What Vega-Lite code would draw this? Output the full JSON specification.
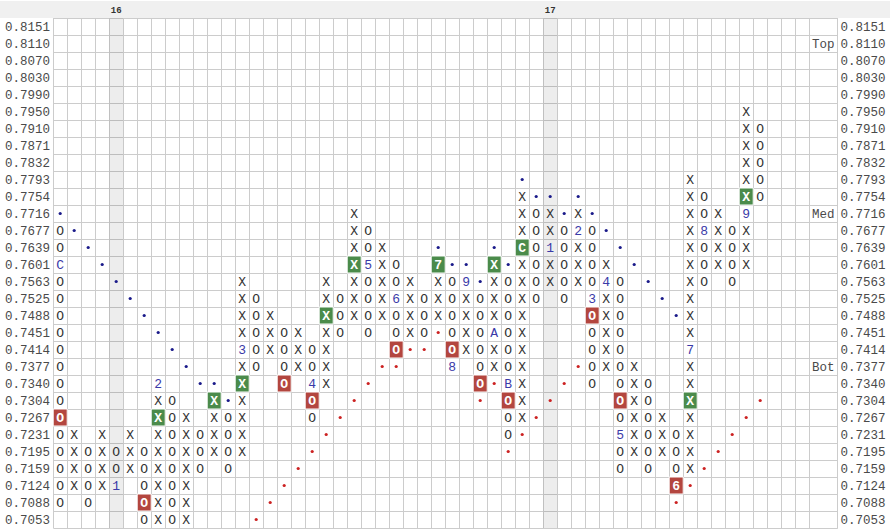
{
"$schema":"https://vega.github.io/schema/vega-lite/v6.json",
"width":890,"height":527,
"autosize":{"type":"none"},
"padding":{"left":0,"right":0,"top":1,"bottom":2},
"background":"#ffffff",
"config":{"view":{"stroke":null},"font":"Liberation Mono"},
"datasets":{
"shade":[{"c":4,"lab":"16"},{"c":35,"lab":"17"}],
"levels":[{"c":54,"p":"0.8110","s":"Top"},{"c":54,"p":"0.7716","s":"Med"},{"c":54,"p":"0.7377","s":"Bot"}],
"cells":[
{"c":0,"p":"0.7677","s":"O","k":"o"},{"c":0,"p":"0.7639","s":"O","k":"o"},{"c":0,"p":"0.7601","s":"C","k":"n"},{"c":0,"p":"0.7563","s":"O","k":"o"},{"c":0,"p":"0.7525","s":"O","k":"o"},{"c":0,"p":"0.7488","s":"O","k":"o"},{"c":0,"p":"0.7451","s":"O","k":"o"},{"c":0,"p":"0.7414","s":"O","k":"o"},{"c":0,"p":"0.7377","s":"O","k":"o"},{"c":0,"p":"0.7340","s":"O","k":"o"},{"c":0,"p":"0.7304","s":"O","k":"o"},{"c":0,"p":"0.7267","s":"O","k":"r"},{"c":0,"p":"0.7231","s":"O","k":"o"},{"c":0,"p":"0.7195","s":"O","k":"o"},{"c":0,"p":"0.7159","s":"O","k":"o"},{"c":0,"p":"0.7124","s":"O","k":"o"},{"c":0,"p":"0.7088","s":"O","k":"o"},
{"c":1,"p":"0.7231","s":"X","k":"x"},{"c":1,"p":"0.7195","s":"X","k":"x"},{"c":1,"p":"0.7159","s":"X","k":"x"},{"c":1,"p":"0.7124","s":"X","k":"x"},
{"c":2,"p":"0.7195","s":"O","k":"o"},{"c":2,"p":"0.7159","s":"O","k":"o"},{"c":2,"p":"0.7124","s":"O","k":"o"},{"c":2,"p":"0.7088","s":"O","k":"o"},
{"c":3,"p":"0.7231","s":"X","k":"x"},{"c":3,"p":"0.7195","s":"X","k":"x"},{"c":3,"p":"0.7159","s":"X","k":"x"},{"c":3,"p":"0.7124","s":"X","k":"x"},
{"c":4,"p":"0.7195","s":"O","k":"o"},{"c":4,"p":"0.7159","s":"O","k":"o"},{"c":4,"p":"0.7124","s":"1","k":"n"},
{"c":5,"p":"0.7231","s":"X","k":"x"},{"c":5,"p":"0.7195","s":"X","k":"x"},{"c":5,"p":"0.7159","s":"X","k":"x"},
{"c":6,"p":"0.7195","s":"O","k":"o"},{"c":6,"p":"0.7159","s":"O","k":"o"},{"c":6,"p":"0.7124","s":"O","k":"o"},{"c":6,"p":"0.7088","s":"O","k":"r"},{"c":6,"p":"0.7053","s":"O","k":"o"},
{"c":7,"p":"0.7340","s":"2","k":"n"},{"c":7,"p":"0.7304","s":"X","k":"x"},{"c":7,"p":"0.7267","s":"X","k":"g"},{"c":7,"p":"0.7231","s":"X","k":"x"},{"c":7,"p":"0.7195","s":"X","k":"x"},{"c":7,"p":"0.7159","s":"X","k":"x"},{"c":7,"p":"0.7124","s":"X","k":"x"},{"c":7,"p":"0.7088","s":"X","k":"x"},{"c":7,"p":"0.7053","s":"X","k":"x"},
{"c":8,"p":"0.7304","s":"O","k":"o"},{"c":8,"p":"0.7267","s":"O","k":"o"},{"c":8,"p":"0.7231","s":"O","k":"o"},{"c":8,"p":"0.7195","s":"O","k":"o"},{"c":8,"p":"0.7159","s":"O","k":"o"},{"c":8,"p":"0.7124","s":"O","k":"o"},{"c":8,"p":"0.7088","s":"O","k":"o"},{"c":8,"p":"0.7053","s":"O","k":"o"},
{"c":9,"p":"0.7267","s":"X","k":"x"},{"c":9,"p":"0.7231","s":"X","k":"x"},{"c":9,"p":"0.7195","s":"X","k":"x"},{"c":9,"p":"0.7159","s":"X","k":"x"},{"c":9,"p":"0.7124","s":"X","k":"x"},{"c":9,"p":"0.7088","s":"X","k":"x"},{"c":9,"p":"0.7053","s":"X","k":"x"},
{"c":10,"p":"0.7231","s":"O","k":"o"},{"c":10,"p":"0.7195","s":"O","k":"o"},{"c":10,"p":"0.7159","s":"O","k":"o"},
{"c":11,"p":"0.7304","s":"X","k":"g"},{"c":11,"p":"0.7267","s":"X","k":"x"},{"c":11,"p":"0.7231","s":"X","k":"x"},{"c":11,"p":"0.7195","s":"X","k":"x"},
{"c":12,"p":"0.7267","s":"O","k":"o"},{"c":12,"p":"0.7231","s":"O","k":"o"},{"c":12,"p":"0.7195","s":"O","k":"o"},{"c":12,"p":"0.7159","s":"O","k":"o"},
{"c":13,"p":"0.7563","s":"X","k":"x"},{"c":13,"p":"0.7525","s":"X","k":"x"},{"c":13,"p":"0.7488","s":"X","k":"x"},{"c":13,"p":"0.7451","s":"X","k":"x"},{"c":13,"p":"0.7414","s":"3","k":"n"},{"c":13,"p":"0.7377","s":"X","k":"x"},{"c":13,"p":"0.7340","s":"X","k":"g"},{"c":13,"p":"0.7304","s":"X","k":"x"},{"c":13,"p":"0.7267","s":"X","k":"x"},{"c":13,"p":"0.7231","s":"X","k":"x"},{"c":13,"p":"0.7195","s":"X","k":"x"},
{"c":14,"p":"0.7525","s":"O","k":"o"},{"c":14,"p":"0.7488","s":"O","k":"o"},{"c":14,"p":"0.7451","s":"O","k":"o"},{"c":14,"p":"0.7414","s":"O","k":"o"},{"c":14,"p":"0.7377","s":"O","k":"o"},
{"c":15,"p":"0.7488","s":"X","k":"x"},{"c":15,"p":"0.7451","s":"X","k":"x"},{"c":15,"p":"0.7414","s":"X","k":"x"},
{"c":16,"p":"0.7451","s":"O","k":"o"},{"c":16,"p":"0.7414","s":"O","k":"o"},{"c":16,"p":"0.7377","s":"O","k":"o"},{"c":16,"p":"0.7340","s":"O","k":"r"},
{"c":17,"p":"0.7451","s":"X","k":"x"},{"c":17,"p":"0.7414","s":"X","k":"x"},{"c":17,"p":"0.7377","s":"X","k":"x"},
{"c":18,"p":"0.7414","s":"O","k":"o"},{"c":18,"p":"0.7377","s":"O","k":"o"},{"c":18,"p":"0.7340","s":"4","k":"n"},{"c":18,"p":"0.7304","s":"O","k":"r"},{"c":18,"p":"0.7267","s":"O","k":"o"},
{"c":19,"p":"0.7563","s":"X","k":"x"},{"c":19,"p":"0.7525","s":"X","k":"x"},{"c":19,"p":"0.7488","s":"X","k":"g"},{"c":19,"p":"0.7451","s":"X","k":"x"},{"c":19,"p":"0.7414","s":"X","k":"x"},{"c":19,"p":"0.7377","s":"X","k":"x"},{"c":19,"p":"0.7340","s":"X","k":"x"},
{"c":20,"p":"0.7525","s":"O","k":"o"},{"c":20,"p":"0.7488","s":"O","k":"o"},{"c":20,"p":"0.7451","s":"O","k":"o"},
{"c":21,"p":"0.7716","s":"X","k":"x"},{"c":21,"p":"0.7677","s":"X","k":"x"},{"c":21,"p":"0.7639","s":"X","k":"x"},{"c":21,"p":"0.7601","s":"X","k":"g"},{"c":21,"p":"0.7563","s":"X","k":"x"},{"c":21,"p":"0.7525","s":"X","k":"x"},{"c":21,"p":"0.7488","s":"X","k":"x"},
{"c":22,"p":"0.7677","s":"O","k":"o"},{"c":22,"p":"0.7639","s":"O","k":"o"},{"c":22,"p":"0.7601","s":"5","k":"n"},{"c":22,"p":"0.7563","s":"O","k":"o"},{"c":22,"p":"0.7525","s":"O","k":"o"},{"c":22,"p":"0.7488","s":"O","k":"o"},{"c":22,"p":"0.7451","s":"O","k":"o"},
{"c":23,"p":"0.7639","s":"X","k":"x"},{"c":23,"p":"0.7601","s":"X","k":"x"},{"c":23,"p":"0.7563","s":"X","k":"x"},{"c":23,"p":"0.7525","s":"X","k":"x"},{"c":23,"p":"0.7488","s":"X","k":"x"},
{"c":24,"p":"0.7601","s":"O","k":"o"},{"c":24,"p":"0.7563","s":"O","k":"o"},{"c":24,"p":"0.7525","s":"6","k":"n"},{"c":24,"p":"0.7488","s":"O","k":"o"},{"c":24,"p":"0.7451","s":"O","k":"o"},{"c":24,"p":"0.7414","s":"O","k":"r"},
{"c":25,"p":"0.7563","s":"X","k":"x"},{"c":25,"p":"0.7525","s":"X","k":"x"},{"c":25,"p":"0.7488","s":"X","k":"x"},{"c":25,"p":"0.7451","s":"X","k":"x"},
{"c":26,"p":"0.7525","s":"O","k":"o"},{"c":26,"p":"0.7488","s":"O","k":"o"},{"c":26,"p":"0.7451","s":"O","k":"o"},
{"c":27,"p":"0.7601","s":"7","k":"g"},{"c":27,"p":"0.7563","s":"X","k":"x"},{"c":27,"p":"0.7525","s":"X","k":"x"},{"c":27,"p":"0.7488","s":"X","k":"x"},
{"c":28,"p":"0.7563","s":"O","k":"o"},{"c":28,"p":"0.7525","s":"O","k":"o"},{"c":28,"p":"0.7488","s":"O","k":"o"},{"c":28,"p":"0.7451","s":"O","k":"o"},{"c":28,"p":"0.7414","s":"O","k":"r"},{"c":28,"p":"0.7377","s":"8","k":"n"},
{"c":29,"p":"0.7563","s":"9","k":"n"},{"c":29,"p":"0.7525","s":"X","k":"x"},{"c":29,"p":"0.7488","s":"X","k":"x"},{"c":29,"p":"0.7451","s":"X","k":"x"},{"c":29,"p":"0.7414","s":"X","k":"x"},
{"c":30,"p":"0.7525","s":"O","k":"o"},{"c":30,"p":"0.7488","s":"O","k":"o"},{"c":30,"p":"0.7451","s":"O","k":"o"},{"c":30,"p":"0.7414","s":"O","k":"o"},{"c":30,"p":"0.7377","s":"O","k":"o"},{"c":30,"p":"0.7340","s":"O","k":"r"},
{"c":31,"p":"0.7601","s":"X","k":"g"},{"c":31,"p":"0.7563","s":"X","k":"x"},{"c":31,"p":"0.7525","s":"X","k":"x"},{"c":31,"p":"0.7488","s":"X","k":"x"},{"c":31,"p":"0.7451","s":"A","k":"n"},{"c":31,"p":"0.7414","s":"X","k":"x"},{"c":31,"p":"0.7377","s":"X","k":"x"},
{"c":32,"p":"0.7563","s":"O","k":"o"},{"c":32,"p":"0.7525","s":"O","k":"o"},{"c":32,"p":"0.7488","s":"O","k":"o"},{"c":32,"p":"0.7451","s":"O","k":"o"},{"c":32,"p":"0.7414","s":"O","k":"o"},{"c":32,"p":"0.7377","s":"O","k":"o"},{"c":32,"p":"0.7340","s":"B","k":"n"},{"c":32,"p":"0.7304","s":"O","k":"r"},{"c":32,"p":"0.7267","s":"O","k":"o"},{"c":32,"p":"0.7231","s":"O","k":"o"},
{"c":33,"p":"0.7754","s":"X","k":"x"},{"c":33,"p":"0.7716","s":"X","k":"x"},{"c":33,"p":"0.7677","s":"X","k":"x"},{"c":33,"p":"0.7639","s":"C","k":"g"},{"c":33,"p":"0.7601","s":"X","k":"x"},{"c":33,"p":"0.7563","s":"X","k":"x"},{"c":33,"p":"0.7525","s":"X","k":"x"},{"c":33,"p":"0.7488","s":"X","k":"x"},{"c":33,"p":"0.7451","s":"X","k":"x"},{"c":33,"p":"0.7414","s":"X","k":"x"},{"c":33,"p":"0.7377","s":"X","k":"x"},{"c":33,"p":"0.7340","s":"X","k":"x"},{"c":33,"p":"0.7304","s":"X","k":"x"},{"c":33,"p":"0.7267","s":"X","k":"x"},
{"c":34,"p":"0.7716","s":"O","k":"o"},{"c":34,"p":"0.7677","s":"O","k":"o"},{"c":34,"p":"0.7639","s":"O","k":"o"},{"c":34,"p":"0.7601","s":"O","k":"o"},{"c":34,"p":"0.7563","s":"O","k":"o"},{"c":34,"p":"0.7525","s":"O","k":"o"},
{"c":35,"p":"0.7716","s":"X","k":"x"},{"c":35,"p":"0.7677","s":"X","k":"x"},{"c":35,"p":"0.7639","s":"1","k":"n"},{"c":35,"p":"0.7601","s":"X","k":"x"},{"c":35,"p":"0.7563","s":"X","k":"x"},
{"c":36,"p":"0.7677","s":"O","k":"o"},{"c":36,"p":"0.7639","s":"O","k":"o"},{"c":36,"p":"0.7601","s":"O","k":"o"},{"c":36,"p":"0.7563","s":"O","k":"o"},{"c":36,"p":"0.7525","s":"O","k":"o"},
{"c":37,"p":"0.7716","s":"X","k":"x"},{"c":37,"p":"0.7677","s":"2","k":"n"},{"c":37,"p":"0.7639","s":"X","k":"x"},{"c":37,"p":"0.7601","s":"X","k":"x"},{"c":37,"p":"0.7563","s":"X","k":"x"},
{"c":38,"p":"0.7677","s":"O","k":"o"},{"c":38,"p":"0.7639","s":"O","k":"o"},{"c":38,"p":"0.7601","s":"O","k":"o"},{"c":38,"p":"0.7563","s":"O","k":"o"},{"c":38,"p":"0.7525","s":"3","k":"n"},{"c":38,"p":"0.7488","s":"O","k":"r"},{"c":38,"p":"0.7451","s":"O","k":"o"},{"c":38,"p":"0.7414","s":"O","k":"o"},{"c":38,"p":"0.7377","s":"O","k":"o"},{"c":38,"p":"0.7340","s":"O","k":"o"},
{"c":39,"p":"0.7601","s":"X","k":"x"},{"c":39,"p":"0.7563","s":"4","k":"n"},{"c":39,"p":"0.7525","s":"X","k":"x"},{"c":39,"p":"0.7488","s":"X","k":"x"},{"c":39,"p":"0.7451","s":"X","k":"x"},{"c":39,"p":"0.7414","s":"X","k":"x"},{"c":39,"p":"0.7377","s":"X","k":"x"},
{"c":40,"p":"0.7563","s":"O","k":"o"},{"c":40,"p":"0.7525","s":"O","k":"o"},{"c":40,"p":"0.7488","s":"O","k":"o"},{"c":40,"p":"0.7451","s":"O","k":"o"},{"c":40,"p":"0.7414","s":"O","k":"o"},{"c":40,"p":"0.7377","s":"O","k":"o"},{"c":40,"p":"0.7340","s":"O","k":"o"},{"c":40,"p":"0.7304","s":"O","k":"r"},{"c":40,"p":"0.7267","s":"O","k":"o"},{"c":40,"p":"0.7231","s":"5","k":"n"},{"c":40,"p":"0.7195","s":"O","k":"o"},{"c":40,"p":"0.7159","s":"O","k":"o"},
{"c":41,"p":"0.7377","s":"X","k":"x"},{"c":41,"p":"0.7340","s":"X","k":"x"},{"c":41,"p":"0.7304","s":"X","k":"x"},{"c":41,"p":"0.7267","s":"X","k":"x"},{"c":41,"p":"0.7231","s":"X","k":"x"},{"c":41,"p":"0.7195","s":"X","k":"x"},
{"c":42,"p":"0.7340","s":"O","k":"o"},{"c":42,"p":"0.7304","s":"O","k":"o"},{"c":42,"p":"0.7267","s":"O","k":"o"},{"c":42,"p":"0.7231","s":"O","k":"o"},{"c":42,"p":"0.7195","s":"O","k":"o"},{"c":42,"p":"0.7159","s":"O","k":"o"},
{"c":43,"p":"0.7267","s":"X","k":"x"},{"c":43,"p":"0.7231","s":"X","k":"x"},{"c":43,"p":"0.7195","s":"X","k":"x"},
{"c":44,"p":"0.7231","s":"O","k":"o"},{"c":44,"p":"0.7195","s":"O","k":"o"},{"c":44,"p":"0.7159","s":"O","k":"o"},{"c":44,"p":"0.7124","s":"6","k":"r"},
{"c":45,"p":"0.7793","s":"X","k":"x"},{"c":45,"p":"0.7754","s":"X","k":"x"},{"c":45,"p":"0.7716","s":"X","k":"x"},{"c":45,"p":"0.7677","s":"X","k":"x"},{"c":45,"p":"0.7639","s":"X","k":"x"},{"c":45,"p":"0.7601","s":"X","k":"x"},{"c":45,"p":"0.7563","s":"X","k":"x"},{"c":45,"p":"0.7525","s":"X","k":"x"},{"c":45,"p":"0.7488","s":"X","k":"x"},{"c":45,"p":"0.7451","s":"X","k":"x"},{"c":45,"p":"0.7414","s":"7","k":"n"},{"c":45,"p":"0.7377","s":"X","k":"x"},{"c":45,"p":"0.7340","s":"X","k":"x"},{"c":45,"p":"0.7304","s":"X","k":"g"},{"c":45,"p":"0.7267","s":"X","k":"x"},{"c":45,"p":"0.7231","s":"X","k":"x"},{"c":45,"p":"0.7195","s":"X","k":"x"},{"c":45,"p":"0.7159","s":"X","k":"x"},
{"c":46,"p":"0.7754","s":"O","k":"o"},{"c":46,"p":"0.7716","s":"O","k":"o"},{"c":46,"p":"0.7677","s":"8","k":"n"},{"c":46,"p":"0.7639","s":"O","k":"o"},{"c":46,"p":"0.7601","s":"O","k":"o"},{"c":46,"p":"0.7563","s":"O","k":"o"},
{"c":47,"p":"0.7716","s":"X","k":"x"},{"c":47,"p":"0.7677","s":"X","k":"x"},{"c":47,"p":"0.7639","s":"X","k":"x"},{"c":47,"p":"0.7601","s":"X","k":"x"},
{"c":48,"p":"0.7677","s":"O","k":"o"},{"c":48,"p":"0.7639","s":"O","k":"o"},{"c":48,"p":"0.7601","s":"O","k":"o"},{"c":48,"p":"0.7563","s":"O","k":"o"},
{"c":49,"p":"0.7950","s":"X","k":"x"},{"c":49,"p":"0.7910","s":"X","k":"x"},{"c":49,"p":"0.7871","s":"X","k":"x"},{"c":49,"p":"0.7832","s":"X","k":"x"},{"c":49,"p":"0.7793","s":"X","k":"x"},{"c":49,"p":"0.7754","s":"X","k":"g"},{"c":49,"p":"0.7716","s":"9","k":"n"},{"c":49,"p":"0.7677","s":"X","k":"x"},{"c":49,"p":"0.7639","s":"X","k":"x"},{"c":49,"p":"0.7601","s":"X","k":"x"},
{"c":50,"p":"0.7910","s":"O","k":"o"},{"c":50,"p":"0.7871","s":"O","k":"o"},{"c":50,"p":"0.7832","s":"O","k":"o"},{"c":50,"p":"0.7793","s":"O","k":"o"},{"c":50,"p":"0.7754","s":"O","k":"o"},
{"c":0,"p":"0.7716","k":"b"},{"c":1,"p":"0.7677","k":"b"},{"c":2,"p":"0.7639","k":"b"},{"c":3,"p":"0.7601","k":"b"},{"c":4,"p":"0.7563","k":"b"},{"c":5,"p":"0.7525","k":"b"},{"c":6,"p":"0.7488","k":"b"},{"c":7,"p":"0.7451","k":"b"},{"c":8,"p":"0.7414","k":"b"},{"c":9,"p":"0.7377","k":"b"},{"c":10,"p":"0.7340","k":"b"},{"c":11,"p":"0.7340","k":"b"},{"c":12,"p":"0.7304","k":"b"},
{"c":27,"p":"0.7639","k":"b"},{"c":28,"p":"0.7601","k":"b"},{"c":29,"p":"0.7601","k":"b"},{"c":30,"p":"0.7563","k":"b"},{"c":31,"p":"0.7639","k":"b"},{"c":32,"p":"0.7601","k":"b"},
{"c":33,"p":"0.7793","k":"b"},{"c":34,"p":"0.7754","k":"b"},{"c":35,"p":"0.7754","k":"b"},{"c":36,"p":"0.7716","k":"b"},{"c":37,"p":"0.7754","k":"b"},{"c":38,"p":"0.7716","k":"b"},{"c":39,"p":"0.7677","k":"b"},{"c":40,"p":"0.7639","k":"b"},{"c":41,"p":"0.7601","k":"b"},{"c":42,"p":"0.7563","k":"b"},{"c":43,"p":"0.7525","k":"b"},{"c":44,"p":"0.7488","k":"b"},
{"c":14,"p":"0.7053","k":"d"},{"c":15,"p":"0.7088","k":"d"},{"c":16,"p":"0.7124","k":"d"},{"c":17,"p":"0.7159","k":"d"},{"c":18,"p":"0.7195","k":"d"},{"c":19,"p":"0.7231","k":"d"},{"c":20,"p":"0.7267","k":"d"},{"c":21,"p":"0.7304","k":"d"},{"c":22,"p":"0.7340","k":"d"},{"c":23,"p":"0.7377","k":"d"},{"c":24,"p":"0.7377","k":"d"},{"c":25,"p":"0.7414","k":"d"},{"c":26,"p":"0.7414","k":"d"},{"c":27,"p":"0.7451","k":"d"},
{"c":30,"p":"0.7304","k":"d"},{"c":31,"p":"0.7340","k":"d"},{"c":32,"p":"0.7195","k":"d"},{"c":33,"p":"0.7231","k":"d"},{"c":34,"p":"0.7267","k":"d"},{"c":35,"p":"0.7304","k":"d"},{"c":36,"p":"0.7340","k":"d"},{"c":37,"p":"0.7377","k":"d"},
{"c":44,"p":"0.7088","k":"d"},{"c":45,"p":"0.7124","k":"d"},{"c":46,"p":"0.7159","k":"d"},{"c":47,"p":"0.7195","k":"d"},{"c":48,"p":"0.7231","k":"d"},{"c":49,"p":"0.7267","k":"d"},{"c":50,"p":"0.7304","k":"d"}
]},
"layer":[
{"data":{"name":"shade"},"mark":{"type":"rect","fill":"#000000","fillOpacity":0.07},
 "encoding":{"x":{"field":"c","type":"ordinal","axis":null,"scale":{"domain":[0,1,2,3,4,5,6,7,8,9,10,11,12,13,14,15,16,17,18,19,20,21,22,23,24,25,26,27,28,29,30,31,32,33,34,35,36,37,38,39,40,41,42,43,44,45,46,47,48,49,50,51,52,53,54,55],"paddingInner":0,"paddingOuter":0,"range":[53.2,837.2]}}}},
{"data":{"name":"shade"},"mark":{"type":"rect","fill":"#f0f0f0"},
 "encoding":{"y":{"datum":"hdr","type":"ordinal","axis":null,"scale":{"domain":["hdr","0.8151","0.8110","0.8070","0.8030","0.7990","0.7950","0.7910","0.7871","0.7832","0.7793","0.7754","0.7716","0.7677","0.7639","0.7601","0.7563","0.7525","0.7488","0.7451","0.7414","0.7377","0.7340","0.7304","0.7267","0.7231","0.7195","0.7159","0.7124","0.7088","0.7053"],"paddingInner":0,"paddingOuter":0}}}},
{"data":{"name":"shade"},"mark":{"type":"text","font":"Liberation Mono","fontSize":9,"fontWeight":"bold","color":"#333333"},
 "encoding":{"x":{"field":"c","type":"ordinal","axis":null},"y":{"datum":"hdr","type":"ordinal","axis":null},"text":{"field":"lab"}}},
{"data":{"name":"cells"},"transform":[{"filter":{"field":"k","oneOf":["g","r"]}}],"mark":{"type":"rect","stroke":"#ffffff","strokeWidth":1},
 "encoding":{"x":{"field":"c","type":"ordinal","axis":null},"y":{"field":"p","type":"ordinal","axis":null},
  "color":{"field":"k","type":"nominal","legend":null,"scale":{"domain":["x","o","n","g","r","b","d"],"range":["#333333","#333333","#3a3aa8","#4b8b4b","#b3463f","#1a1a8a","#cc2222"]}}}},
{"data":{"name":"cells"},"transform":[{"filter":{"field":"k","oneOf":["g","r"]}}],"mark":{"type":"text","font":"Liberation Mono","fontSize":13,"fontWeight":"bold","color":"#ffffff"},
 "encoding":{"x":{"field":"c","type":"ordinal","axis":null},"y":{"field":"p","type":"ordinal","axis":null},"text":{"field":"s"}}},
{"data":{"name":"cells"},"transform":[{"filter":{"field":"k","oneOf":["x","o","n"]}}],"mark":{"type":"text","font":"Liberation Mono","fontSize":13},
 "encoding":{
  "x":{"field":"c","type":"ordinal","axis":{"orient":"bottom","values":[0,1,2,3,4,5,6,7,8,9,10,11,12,13,14,15,16,17,18,19,20,21,22,23,24,25,26,27,28,29,30,31,32,33,34,35,36,37,38,39,40,41,42,43,44,45,46,47,48,49,50,51,52,53,55],"grid":true,"tickBand":"extent","labels":false,"ticks":false,"domain":false,"title":null,"gridColor":"#cccccc","gridWidth":1}},
  "y":{"field":"p","type":"ordinal","axis":{"orient":"left","values":["0.8151","0.8110","0.8070","0.8030","0.7990","0.7950","0.7910","0.7871","0.7832","0.7793","0.7754","0.7716","0.7677","0.7639","0.7601","0.7563","0.7525","0.7488","0.7451","0.7414","0.7377","0.7340","0.7304","0.7267","0.7231","0.7195","0.7159","0.7124","0.7088","0.7053"],"grid":true,"tickBand":"extent","ticks":false,"domain":false,"title":null,"gridColor":"#cccccc","gridWidth":1,"labelPadding":-49.5,"labelFont":"Liberation Mono","labelFontSize":12.5,"labelColor":"#4a4a4a"}},
  "color":{"field":"k","type":"nominal","legend":null},
  "text":{"field":"s"}}},
{"data":{"name":"cells"},"transform":[{"filter":{"field":"k","oneOf":["b","d"]}}],"mark":{"type":"circle","size":10,"opacity":1},
 "encoding":{"x":{"field":"c","type":"ordinal","axis":null},"y":{"field":"p","type":"ordinal","axis":null},"color":{"field":"k","type":"nominal","legend":null}}},
{"data":{"name":"levels"},"mark":{"type":"text","font":"Liberation Mono","fontSize":12.5,"color":"#4a4a4a","dx":7},
 "encoding":{"x":{"field":"c","type":"ordinal","axis":null},
  "y":{"field":"p","type":"ordinal","axis":{"orient":"right","values":["0.8151","0.8110","0.8070","0.8030","0.7990","0.7950","0.7910","0.7871","0.7832","0.7793","0.7754","0.7716","0.7677","0.7639","0.7601","0.7563","0.7525","0.7488","0.7451","0.7414","0.7377","0.7340","0.7304","0.7267","0.7231","0.7195","0.7159","0.7124","0.7088","0.7053"],"grid":false,"ticks":false,"domain":false,"title":null,"labelPadding":-50,"labelFont":"Liberation Mono","labelFontSize":12.5,"labelColor":"#4a4a4a"}},
  "text":{"field":"s"}}}
],
"resolve":{"axis":{"x":"independent","y":"independent"}}
}
